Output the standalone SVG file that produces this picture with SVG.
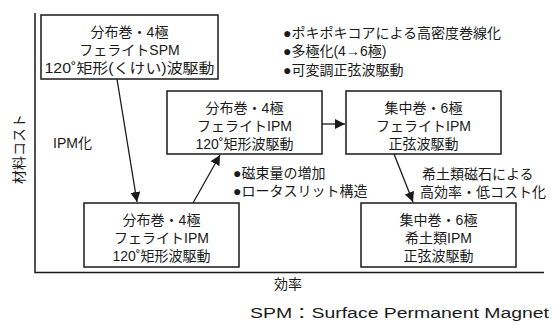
<svg xmlns="http://www.w3.org/2000/svg" width="553" height="325" viewBox="0 0 553 325">
<style>
text{font-family:"Liberation Sans","Noto Sans CJK JP",sans-serif;font-size:14px;fill:#1a1a1a}
.c{text-anchor:middle}
.box{fill:#fff;stroke:#1a1a1a;stroke-width:1.5}
.ax{stroke:#1a1a1a;stroke-width:1.5;fill:none}
.ar{stroke:#1a1a1a;stroke-width:1.3;fill:none;marker-end:url(#ah)}
</style>
<defs>
<marker id="ah" viewBox="0 0 10 10" refX="10" refY="5" markerWidth="10" markerHeight="10" markerUnits="userSpaceOnUse" orient="auto">
<path d="M0,0 L10,5 L0,10 z" fill="#1a1a1a"/>
</marker>
</defs>
<g id="axes">
<path class="ax" d="M35,13 V272.5 H544"/>
<text transform="translate(24,149) rotate(-90)" class="c">材料コスト</text>
<text x="288" y="289" class="c">効率</text>
</g>
<g id="connectors">
<line class="ar" x1="117" y1="79" x2="137" y2="202"/>
<line class="ar" x1="193" y1="203" x2="220" y2="155"/>
<line class="ar" x1="322" y1="124" x2="345" y2="124"/>
<line class="ar" x1="394" y1="154" x2="413" y2="202"/>
</g>
<g id="n1">
<rect class="box" x="41" y="15" width="177" height="64"/>
<text x="129.5" y="37" class="c">分布巻・4極</text>
<text x="129.5" y="55" class="c">フェライトSPM</text>
<text x="129.5" y="73" class="c" textLength="170" lengthAdjust="spacingAndGlyphs">120˚矩形(くけい)波駆動</text>
</g>
<g id="n2">
<rect class="box" x="167" y="91" width="155" height="63"/>
<text x="244.5" y="113" class="c">分布巻・4極</text>
<text x="244.5" y="131" class="c">フェライトIPM</text>
<text x="244.5" y="149" class="c">120˚矩形波駆動</text>
</g>
<g id="n3">
<rect class="box" x="346" y="91" width="155" height="63"/>
<text x="423.5" y="113" class="c">集中巻・6極</text>
<text x="423.5" y="131" class="c">フェライトIPM</text>
<text x="423.5" y="149" class="c">正弦波駆動</text>
</g>
<g id="n4">
<rect class="box" x="84" y="203" width="155" height="64"/>
<text x="161.5" y="225" class="c">分布巻・4極</text>
<text x="161.5" y="243" class="c">フェライトIPM</text>
<text x="161.5" y="261" class="c">120˚矩形波駆動</text>
</g>
<g id="n5">
<rect class="box" x="361" y="203" width="155" height="64"/>
<text x="438.5" y="225" class="c">集中巻・6極</text>
<text x="438.5" y="243" class="c">希土類IPM</text>
<text x="438.5" y="261" class="c">正弦波駆動</text>
</g>
<g id="labels">
<text x="283" y="38">●ポキポキコアによる高密度巻線化</text>
<text x="283" y="56">●多極化(4→6極)</text>
<text x="283" y="75">●可変調正弦波駆動</text>
<text x="53" y="148">IPM化</text>
<text x="233" y="178">●磁束量の増加</text>
<text x="233" y="196">●ロータスリット構造</text>
<text x="422" y="179">希土類磁石による</text>
<text x="420" y="197">高効率・低コスト化</text>
<text x="250" y="318" textLength="299" lengthAdjust="spacingAndGlyphs">SPM：Surface Permanent Magnet</text>
</g>
</svg>
